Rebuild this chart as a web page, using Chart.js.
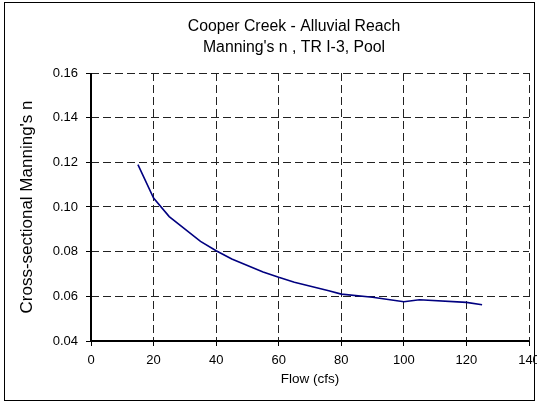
<!DOCTYPE html>
<html>
<head>
<script src="https://cdn.jsdelivr.net/npm/chart.js@4.4.1/dist/chart.umd.min.js"></script>
<style>
  body { margin: 0; background: #fff; }
  #wrap { width: 537px; height: 406px; }
</style>
</head>
<body>
<div id="wrap"><canvas id="c" width="537" height="406"></canvas></div>
<script>
  // values
  const flow = [15, 20, 25, 35, 40, 45, 55, 60, 65, 76, 80, 90, 100, 105, 120, 125];
  const manningN = [0.119, 0.104, 0.0957, 0.0846, 0.0804, 0.0767, 0.0709, 0.0685, 0.0663, 0.0625, 0.061, 0.0596, 0.0576, 0.0585, 0.0573, 0.0562];
  const titleLines = ['Cooper Creek - Alluvial Reach', "Manning's n , TR I-3, Pool"];
  const xTitle = 'Flow (cfs)';
  const yTitle = "Cross-sectional Manning's n";

  const font = 'Liberation Sans, Arial, sans-serif';

  // outer frame, solid left/bottom axis lines, two-line heading
  const framePlugin = {
    id: 'frame',
    afterDraw(chart) {
      const ctx = chart.ctx;
      const area = chart.chartArea;
      ctx.save();
      ctx.setLineDash([]);
      ctx.strokeStyle = '#000';
      ctx.lineWidth = 2;
      ctx.beginPath();
      ctx.moveTo(area.left, area.top);
      ctx.lineTo(area.left, area.bottom);
      ctx.lineTo(area.right, area.bottom);
      ctx.stroke();
      ctx.lineWidth = 1;
      ctx.strokeRect(4.5, 2.5, 530, 398);
      ctx.fillStyle = '#000';
      ctx.font = '15.8px ' + font;
      ctx.textAlign = 'center';
      ctx.textBaseline = 'middle';
      ctx.fillText(titleLines[0], 294, 27);
      ctx.fillText(titleLines[1], 294, 48);
      ctx.restore();
    }
  };

  new Chart(document.getElementById('c'), {
    type: 'scatter',
    data: {
      datasets: [{
        data: flow.map((x, i) => ({ x: x, y: manningN[i] })),
        showLine: true,
        borderColor: '#000080',
        borderWidth: 1.6,
        pointRadius: 0,
        tension: 0
      }]
    },
    options: {
      responsive: false,
      animation: false,
      layout: { padding: { left: 6, right: 8, top: 73, bottom: 6 } },
      plugins: { legend: { display: false }, tooltip: { enabled: false } },
      scales: {
        x: {
          min: 0, max: 140,
          ticks: { stepSize: 20, color: '#000', font: { family: font, size: 13 }, padding: 7, maxRotation: 0 },
          grid: { color: '#222', tickLength: 5, tickColor: '#000', tickBorderDash: [] },
          border: { display: false, dash: [8, 4] },
          title: { display: true, text: xTitle, color: '#000', font: { family: font, size: 13.5 }, padding: { top: 4, bottom: 13 } },
          afterFit(s) { s.height = 59; s.paddingRight = 0; }
        },
        y: {
          min: 0.04, max: 0.16,
          ticks: { stepSize: 0.02, color: '#000', font: { family: font, size: 13 }, padding: 8,
                   callback: v => v.toFixed(2) },
          grid: { color: '#222', tickLength: 5, tickColor: '#000', tickBorderDash: [] },
          border: { display: false, dash: [8, 4] },
          title: { display: true, text: yTitle, color: '#000', font: { family: font, size: 17 }, padding: { top: 11, bottom: 0 } },
          afterFit(s) { s.width = 85; }
        }
      }
    },
    plugins: [framePlugin]
  });
</script>
</body>
</html>
